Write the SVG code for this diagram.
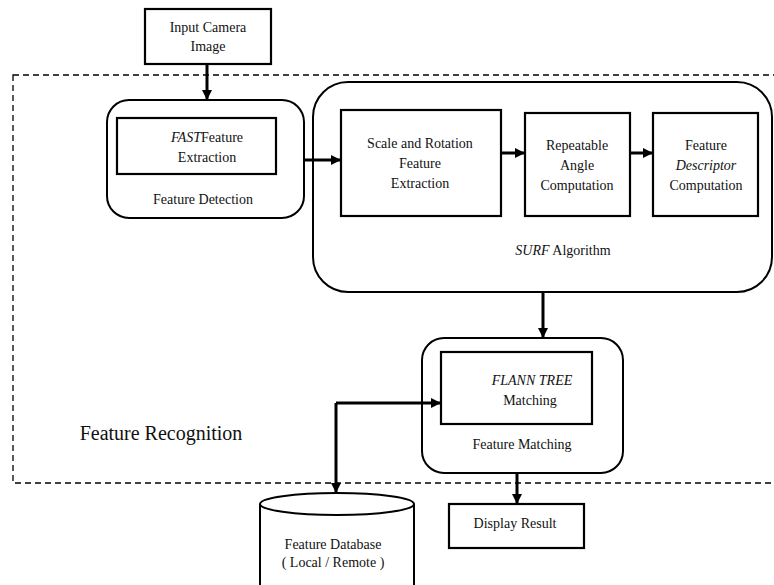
<svg xmlns="http://www.w3.org/2000/svg" width="774" height="585" viewBox="0 0 774 585">
<defs>
<marker id="ah" viewBox="0 0 10 10" refX="9" refY="5" markerWidth="3.4" markerHeight="3.4" orient="auto" markerUnits="strokeWidth">
<path d="M0,0 L10,5 L0,10 z" fill="#000"/>
</marker>
</defs>
<style>
.box{fill:#fff;stroke:#000;stroke-width:2.2}
.rbox{fill:#fff;stroke:#000;stroke-width:2}
.t{font-family:"Liberation Serif","Times New Roman",serif;font-size:14px;fill:#111;text-anchor:middle}
.i{font-style:italic}
.conn{fill:none;stroke:#000;stroke-width:3;marker-end:url(#ah)}
.dash{fill:none;stroke:#000;stroke-width:1.3;stroke-dasharray:6,4}
</style>
<rect width="774" height="585" fill="#fff"/>
<g id="feature-recognition">
<rect class="dash" x="13" y="75" width="790" height="408"/>
<text class="t" x="161" y="440" style="font-size:20px">Feature Recognition</text>
</g>
<g id="input-camera">
<rect class="box" x="145" y="9" width="126" height="55"/>
<text class="t" x="208" y="32">Input Camera</text>
<text class="t" x="208" y="51">Image</text>
</g>
<g id="feature-detection">
<rect class="rbox" x="107" y="100" width="197" height="118" rx="22"/>
<rect class="box" x="117" y="118" width="159" height="56"/>
<text class="t" x="207" y="142"><tspan class="i">FAST</tspan>Feature</text>
<text class="t" x="207" y="162">Extraction</text>
<text class="t" x="203" y="204">Feature Detection</text>
</g>
<g id="surf">
<rect class="rbox" x="313" y="82" width="459" height="210" rx="35"/>
<text class="t" x="563" y="255"><tspan class="i">SURF</tspan> Algorithm</text>
</g>
<g id="scale-rotation">
<rect class="box" x="341" y="110" width="160" height="106"/>
<text class="t" x="420" y="148">Scale and Rotation</text>
<text class="t" x="420" y="168">Feature</text>
<text class="t" x="420" y="188">Extraction</text>
</g>
<g id="repeatable-angle">
<rect class="box" x="525" y="113" width="105" height="103"/>
<text class="t" x="577" y="150">Repeatable</text>
<text class="t" x="577" y="170">Angle</text>
<text class="t" x="577" y="190">Computation</text>
</g>
<g id="feature-descriptor">
<rect class="box" x="653" y="113" width="105" height="103"/>
<text class="t" x="706" y="150">Feature</text>
<text class="t i" x="706" y="170">Descriptor</text>
<text class="t" x="706" y="190">Computation</text>
</g>
<g id="feature-matching">
<rect class="rbox" x="422" y="338" width="201" height="135" rx="22"/>
<rect class="box" x="441" y="352" width="151" height="72"/>
<text class="t i" x="532" y="385">FLANN TREE</text>
<text class="t" x="530" y="405">Matching</text>
<text class="t" x="522" y="449">Feature  Matching</text>
</g>
<g id="display-result">
<rect class="box" x="449" y="504" width="135" height="44"/>
<text class="t" x="515" y="528">Display Result</text>
</g>
<g id="feature-database">
<path class="rbox" d="M260,504 L260,600 L414,600 L414,504"/>
<ellipse class="rbox" cx="337" cy="504" rx="77" ry="11"/>
<text class="t" x="333" y="549">Feature Database</text>
<text class="t" x="333" y="567">( Local / Remote )</text>
</g>
<g id="connectors">
<path class="conn" d="M207,64 L207,99"/>
<path class="conn" d="M304,160 L340,160"/>
<path class="conn" d="M501,153 L524,153"/>
<path class="conn" d="M630,153 L652,153"/>
<path class="conn" d="M543,292 L543,337"/>
<path class="conn" d="M517,473 L517,503"/>
<path class="conn" d="M336,403 L440,403"/>
<path class="conn" d="M336,403 L336,492"/>
</g>
</svg>
